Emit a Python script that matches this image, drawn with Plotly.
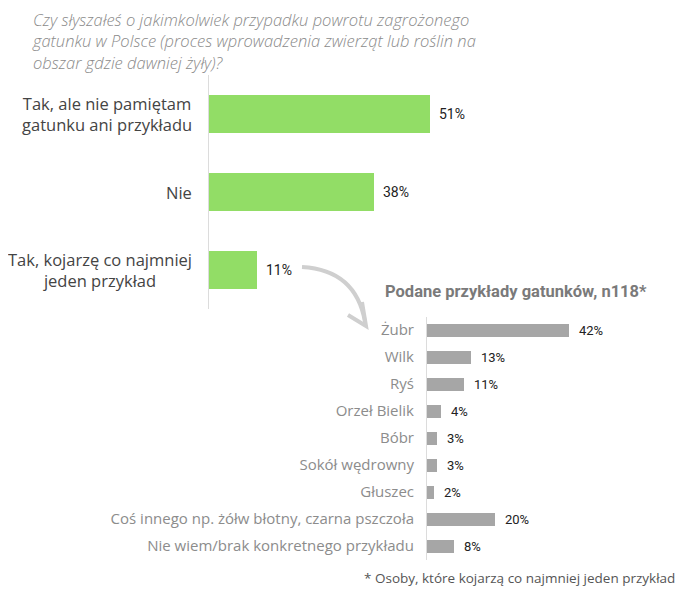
import plotly.graph_objects as go

# dane – pytanie główne
main_labels = ["Tak, ale nie pamiętam<br>gatunku ani przykładu", "Nie", "Tak, kojarzę co najmniej<br>jeden przykład"]
main_values = [51, 38, 11]

# dane – podane przykłady gatunków
species_labels = ["Żubr", "Wilk", "Ryś", "Orzeł Bielik", "Bóbr", "Sokół wędrowny", "Głuszec",
                  "Coś innego np. żółw błotny, czarna pszczoła", "Nie wiem/brak konkretnego przykładu"]
species_values = [42, 13, 11, 4, 3, 3, 2, 20, 8]

title_text = ("Czy słyszałeś o jakimkolwiek przypadku powrotu zagrożonego<br>"
              "gatunku w Polsce (proces wprowadzenia zwierząt lub roślin na<br>"
              "obszar gdzie dawniej żyły)?")
subtitle_text = "Podane przykłady gatunków, n118*"
footnote_text = "* Osoby, które kojarzą co najmniej jeden przykład"

# strona ma 8px marginesu u góry i z lewej
OFF = 8
W, H = 683 - OFF, 590 - OFF
narrow = "Liberation Sans Narrow, Arial Narrow, Roboto, sans-serif"
sans = "Open Sans, Roboto, sans-serif"


def px(x):
    return (x - OFF) / W


def py(y):
    return 1 - (y - OFF) / H


fig = go.Figure()

fig.add_trace(go.Bar(
    x=main_values, y=main_labels, orientation="h",
    marker=dict(color="#92dd66", line=dict(width=0)),
    width=0.49, xaxis="x", yaxis="y", hoverinfo="skip"
))

fig.add_trace(go.Bar(
    x=species_values, y=species_labels, orientation="h",
    marker=dict(color="#a6a6a6", line=dict(width=0)),
    width=0.5, xaxis="x2", yaxis="y2", hoverinfo="skip"
))

annotations = []

# etykiety kategorii (wyśrodkowane, wieloliniowe)
for lab in main_labels:
    annotations.append(dict(
        x=0, y=lab, xref="x", yref="y", text=lab, showarrow=False,
        xanchor="right", yanchor="middle", align="center", xshift=-15,
        font=dict(family=sans, size=16.5, color="#444444")
    ))

for lab, v in zip(main_labels, main_values):
    annotations.append(dict(
        x=v, y=lab, xref="x", yref="y", text=f"{v}%", showarrow=False,
        xanchor="left", yanchor="middle", xshift=7,
        font=dict(family=narrow, size=14, color="#222222")
    ))

for lab, v in zip(species_labels, species_values):
    annotations.append(dict(
        x=v, y=lab, xref="x2", yref="y2", text=f"{v}%", showarrow=False,
        xanchor="left", yanchor="middle", xshift=8,
        font=dict(family=narrow, size=13, color="#222222")
    ))

annotations += [
    dict(x=px(30), y=py(6), xref="paper", yref="paper", text=title_text,
         showarrow=False, xanchor="left", yanchor="top", align="left",
         font=dict(family=sans, size=16.5, color="#8a8a8a", style="italic", weight=300)),
    dict(x=px(383), y=py(291), xref="paper", yref="paper", text=f"<b>{subtitle_text}</b>",
         showarrow=False, xanchor="left", yanchor="middle",
         font=dict(family="Roboto, sans-serif", size=16.5, color="#7a7a7a")),
    dict(x=px(677), y=py(578), xref="paper", yref="paper", text=footnote_text,
         showarrow=False, xanchor="right", yanchor="middle",
         font=dict(family=sans, size=13.5, color="#555555")),
]

# zakrzywiona strzałka
arrow_curve = f"M {px(302)},{py(267)} Q {px(356)},{py(270)} {px(365)},{py(322)}"
arrow_head = f"M {px(348)},{py(315)} L {px(366)},{py(326)} L {px(362)},{py(302)}"
shapes = [
    dict(type="path", path=arrow_curve, xref="paper", yref="paper",
         line=dict(color="#cfcfcf", width=4)),
    dict(type="path", path=arrow_head, xref="paper", yref="paper",
         line=dict(color="#cfcfcf", width=4)),
]

fig.update_layout(
    width=W, height=H,
    margin=dict(l=0, r=0, t=0, b=0),
    paper_bgcolor="white", plot_bgcolor="white",
    showlegend=False,
    bargap=0,
    annotations=annotations,
    shapes=shapes,
    xaxis=dict(domain=[px(209), px(209 + 4.33 * 60)], range=[0, 60],
               visible=False, fixedrange=True),
    yaxis=dict(domain=[py(309), py(75)], type="category",
               categoryorder="array", categoryarray=main_labels,
               range=[2.5, -0.5], showticklabels=False, showgrid=False,
               showline=True, linecolor="#dcdcdc", linewidth=1, anchor="x"),
    xaxis2=dict(domain=[px(427), px(427 + 3.38 * 60)], range=[0, 60],
                visible=False, anchor="y2"),
    yaxis2=dict(domain=[py(559.5), py(316.5)], type="category",
                categoryorder="array", categoryarray=species_labels,
                range=[8.5, -0.5], showgrid=False, anchor="x2",
                showline=True, linecolor="#dcdcdc", linewidth=1,
                ticks="outside", ticklen=9, tickcolor="rgba(0,0,0,0)",
                tickfont=dict(family=sans, size=15, color="#8c8c8c")),
)

fig.write_html("out.html")
